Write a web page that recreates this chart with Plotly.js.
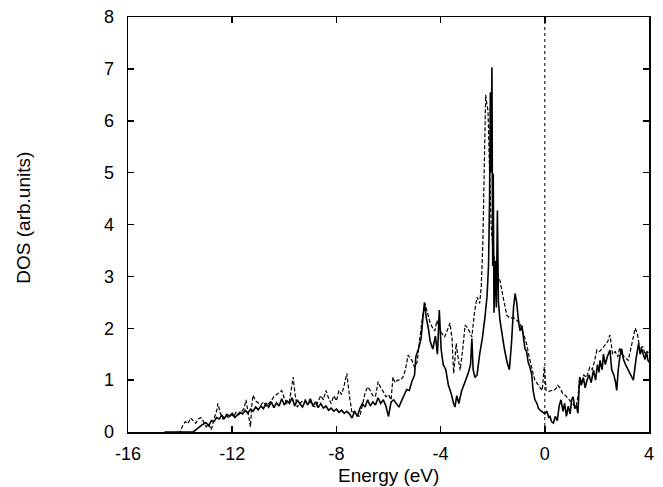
<!DOCTYPE html>
<html>
<head>
<meta charset="utf-8">
<script src="https://cdn.plot.ly/plotly-3.0.1.min.js"></script>
<style>html,body{margin:0;padding:0;background:#fff;}#chart{width:663px;height:487px;}</style>
</head>
<body>
<div id="chart"></div>
<script>
// Solid curve
const energySolid = [-14.6,-14.0,-13.5,-13.3,-13.15,-13.0,-12.9,-12.8,-12.7,-12.6,-12.5,-12.4,-12.3,-12.2,-12.1,-12.0,-11.9,-11.8,-11.7,-11.6,-11.5,-11.4,-11.3,-11.2,-11.1,-11.0,-10.9,-10.8,-10.7,-10.6,-10.5,-10.4,-10.3,-10.2,-10.1,-10.0,-9.9,-9.8,-9.7,-9.6,-9.5,-9.4,-9.3,-9.2,-9.1,-9.0,-8.9,-8.8,-8.7,-8.6,-8.5,-8.4,-8.3,-8.2,-8.1,-8.0,-7.9,-7.8,-7.7,-7.6,-7.5,-7.4,-7.3,-7.2,-7.1,-7.0,-6.9,-6.8,-6.7,-6.6,-6.5,-6.4,-6.3,-6.2,-6.1,-6.0,-5.9,-5.8,-5.7,-5.6,-5.5,-5.4,-5.3,-5.2,-5.1,-5.0,-4.95,-4.85,-4.75,-4.68,-4.62,-4.55,-4.47,-4.4,-4.3,-4.2,-4.12,-4.05,-3.98,-3.9,-3.8,-3.7,-3.6,-3.5,-3.45,-3.38,-3.3,-3.2,-3.1,-3.0,-2.93,-2.85,-2.8,-2.75,-2.68,-2.6,-2.5,-2.4,-2.3,-2.22,-2.16,-2.12,-2.09,-2.06,-2.03,-2.0,-1.98,-1.95,-1.9,-1.86,-1.82,-1.78,-1.72,-1.65,-1.55,-1.45,-1.36,-1.28,-1.2,-1.14,-1.08,-1.0,-0.95,-0.88,-0.82,-0.76,-0.7,-0.64,-0.57,-0.5,-0.45,-0.38,-0.3,-0.24,-0.18,-0.1,0.0,0.08,0.15,0.2,0.26,0.33,0.4,0.48,0.55,0.62,0.7,0.76,0.83,0.9,0.97,1.03,1.09,1.15,1.22,1.27,1.34,1.4,1.48,1.55,1.62,1.7,1.78,1.87,1.95,2.02,2.08,2.12,2.2,2.25,2.32,2.4,2.5,2.57,2.65,2.72,2.76,2.82,2.88,2.95,3.02,3.1,3.2,3.27,3.34,3.4,3.5,3.6,3.66,3.72,3.78,3.85,3.9,3.96,4.04];
const dosSolid = [0,0,0,0.08,0.14,0.18,0.12,0.22,0.2,0.28,0.25,0.32,0.26,0.34,0.3,0.36,0.28,0.33,0.38,0.35,0.42,0.36,0.44,0.4,0.48,0.43,0.5,0.45,0.55,0.48,0.58,0.47,0.56,0.5,0.64,0.52,0.6,0.55,0.66,0.5,0.62,0.54,0.48,0.6,0.52,0.64,0.5,0.58,0.47,0.55,0.46,0.5,0.42,0.46,0.4,0.44,0.38,0.42,0.36,0.4,0.35,0.27,0.4,0.3,0.45,0.55,0.48,0.62,0.5,0.58,0.52,0.66,0.55,0.62,0.5,0.3,0.58,0.62,0.55,0.48,0.6,0.7,0.82,0.8,0.98,1.1,1.45,1.6,1.8,2.2,2.5,2.2,2.0,1.75,1.6,1.85,1.5,2.35,1.6,1.3,1.2,0.9,0.75,0.55,0.48,0.7,0.55,0.78,0.9,1.05,1.15,1.3,1.8,1.2,1.05,1.1,1.5,1.8,2.2,2.6,3.2,4.5,6.55,5.0,7.03,3.2,4.98,2.3,3.3,2.4,4.27,2.5,2.15,1.9,1.6,1.35,1.2,1.7,2.4,2.67,2.5,2.1,1.95,2.05,1.8,1.6,1.55,1.35,1.25,1.1,0.8,0.62,0.55,0.45,0.42,0.38,0.35,0.4,0.28,0.3,0.2,0.17,0.3,0.22,0.5,0.62,0.4,0.55,0.3,0.5,0.35,0.62,0.68,0.45,0.5,0.36,1.06,0.9,1.05,0.85,1.0,1.1,0.95,1.19,1.0,1.3,1.15,1.38,1.2,1.5,1.3,1.45,1.58,1.2,1.1,0.95,0.8,1.2,1.45,1.6,1.4,1.3,1.2,1.13,1.05,1.0,1.4,1.71,1.5,1.6,1.5,1.4,1.55,1.38,1.33];

// Dashed curve
const energyDashed = [-14.1,-14.0,-13.9,-13.8,-13.7,-13.6,-13.5,-13.4,-13.3,-13.2,-13.1,-13.0,-12.9,-12.8,-12.7,-12.6,-12.55,-12.45,-12.35,-12.25,-12.15,-12.05,-11.95,-11.85,-11.75,-11.65,-11.55,-11.47,-11.38,-11.3,-11.25,-11.2,-11.1,-11.0,-10.9,-10.8,-10.7,-10.6,-10.5,-10.4,-10.3,-10.2,-10.1,-10.0,-9.9,-9.8,-9.72,-9.66,-9.58,-9.5,-9.4,-9.3,-9.2,-9.1,-9.0,-8.9,-8.8,-8.7,-8.6,-8.5,-8.4,-8.3,-8.2,-8.1,-8.0,-7.9,-7.8,-7.7,-7.6,-7.5,-7.4,-7.3,-7.2,-7.1,-7.0,-6.9,-6.8,-6.7,-6.6,-6.5,-6.4,-6.3,-6.2,-6.1,-6.0,-5.9,-5.83,-5.75,-5.65,-5.56,-5.45,-5.35,-5.25,-5.15,-5.1,-5.0,-4.9,-4.8,-4.7,-4.6,-4.5,-4.4,-4.3,-4.22,-4.14,-4.05,-3.95,-3.85,-3.75,-3.64,-3.56,-3.5,-3.45,-3.4,-3.35,-3.25,-3.15,-3.06,-2.95,-2.85,-2.8,-2.7,-2.6,-2.5,-2.44,-2.38,-2.32,-2.27,-2.22,-2.18,-2.12,-2.06,-2.0,-1.9,-1.8,-1.72,-1.6,-1.46,-1.35,-1.2,-1.07,-0.95,-0.82,-0.7,-0.6,-0.52,-0.45,-0.38,-0.3,-0.2,-0.1,-0.02,0.05,0.15,0.25,0.35,0.45,0.5,0.58,0.68,0.8,0.94,1.05,1.15,1.2,1.28,1.34,1.42,1.5,1.6,1.73,1.82,1.9,2.0,2.1,2.25,2.35,2.42,2.5,2.55,2.6,2.7,2.8,2.88,2.95,3.05,3.2,3.3,3.4,3.47,3.55,3.66,3.75,3.85,3.95,4.04];
const dosDashed = [0,0,0.12,0.2,0.16,0.27,0.22,0.17,0.25,0.28,0.2,0.1,0.15,0.04,0.25,0.4,0.55,0.35,0.25,0.32,0.28,0.34,0.3,0.38,0.33,0.4,0.45,0.62,0.35,0.1,0.5,0.71,0.6,0.55,0.52,0.58,0.5,0.55,0.6,0.68,0.72,0.76,0.8,0.65,0.55,0.6,0.9,1.06,0.7,0.48,0.55,0.6,0.62,0.55,0.58,0.5,0.48,0.6,0.7,0.62,0.8,0.65,0.55,0.7,0.6,0.8,0.72,0.9,1.13,0.7,0.36,0.4,0.32,0.3,0.55,0.75,0.87,0.8,0.7,0.68,0.97,0.85,0.78,0.68,0.72,0.62,1.06,0.95,1.0,1.0,1.05,1.2,1.48,1.42,1.38,1.25,1.35,1.8,2.2,2.48,2.3,2.1,2.0,1.95,2.15,2.0,1.9,1.83,1.95,2.1,1.8,1.13,1.4,1.71,1.5,1.19,1.6,2.06,2.0,1.9,1.83,2.3,2.6,2.48,2.8,3.6,5.0,6.5,6.3,6.2,5.0,4.0,3.6,3.2,3.0,2.92,2.6,2.25,2.2,2.2,2.15,2.1,1.9,1.7,1.45,1.25,1.13,1.0,0.94,0.85,0.8,1.25,0.8,0.78,0.8,0.8,0.85,0.9,0.85,0.75,0.7,0.62,0.55,0.5,0.48,0.7,1.06,0.95,1.1,1.05,1.25,1.2,1.35,1.58,1.55,1.63,1.7,1.75,1.87,1.7,1.5,1.55,1.45,1.63,1.5,1.45,1.38,1.6,1.85,2.0,1.9,1.58,1.65,1.5,1.55,1.45];

// Fermi level reference line
const fermiEnergy = [0, 0];
const fermiDos = [0, 8];

const xTicks = [-16, -12, -8, -4, 0, 4];
const yTicks = [0, 1, 2, 3, 4, 5, 6, 7, 8];

const FONT = 'Liberation Sans, Arial, Helvetica, sans-serif';

const traces = [
  {x: fermiEnergy, y: fermiDos, mode: 'lines', line: {color: '#000', width: 1, dash: 'dot'}, hoverinfo: 'skip'},
  {x: energyDashed, y: dosDashed, mode: 'lines', line: {color: '#000', width: 1.2, dash: '4px,2px'}},
  {x: energySolid, y: dosSolid, mode: 'lines', line: {color: '#000', width: 1.6}}
];

const axisCommon = {
  showgrid: false, zeroline: false, showline: true, mirror: 'ticks',
  linecolor: '#000', linewidth: 1.5, ticks: 'inside', ticklen: 6, tickwidth: 1.5, tickcolor: '#000',
  tickfont: {family: FONT, size: 18, color: '#000'}
};

const layout = {
  width: 663, height: 487,
  margin: {l: 128, r: 14, t: 17, b: 55},
  paper_bgcolor: '#fff', plot_bgcolor: '#fff',
  showlegend: false,
  xaxis: Object.assign({}, axisCommon, {range: [-16, 4], tickvals: xTicks, ticktext: xTicks.map(String), ticklabelstandoff: 5}),
  yaxis: Object.assign({}, axisCommon, {range: [0, 8], tickvals: yTicks, ticktext: yTicks.map(String), ticklabelstandoff: 9}),
  annotations: [
    {text: 'Energy (eV)', xref: 'paper', yref: 'paper', x: 0.5, y: -0.104, xanchor: 'center', yanchor: 'middle', showarrow: false, font: {family: FONT, size: 19, color: '#000'}},
    {text: 'DOS (arb.units)', xref: 'paper', yref: 'paper', x: -0.2, y: 0.516, xanchor: 'center', yanchor: 'middle', textangle: -90, showarrow: false, font: {family: FONT, size: 19, color: '#000'}}
  ]
};

Plotly.newPlot('chart', traces, layout, {staticPlot: true, displayModeBar: false});
</script>
</body>
</html>
